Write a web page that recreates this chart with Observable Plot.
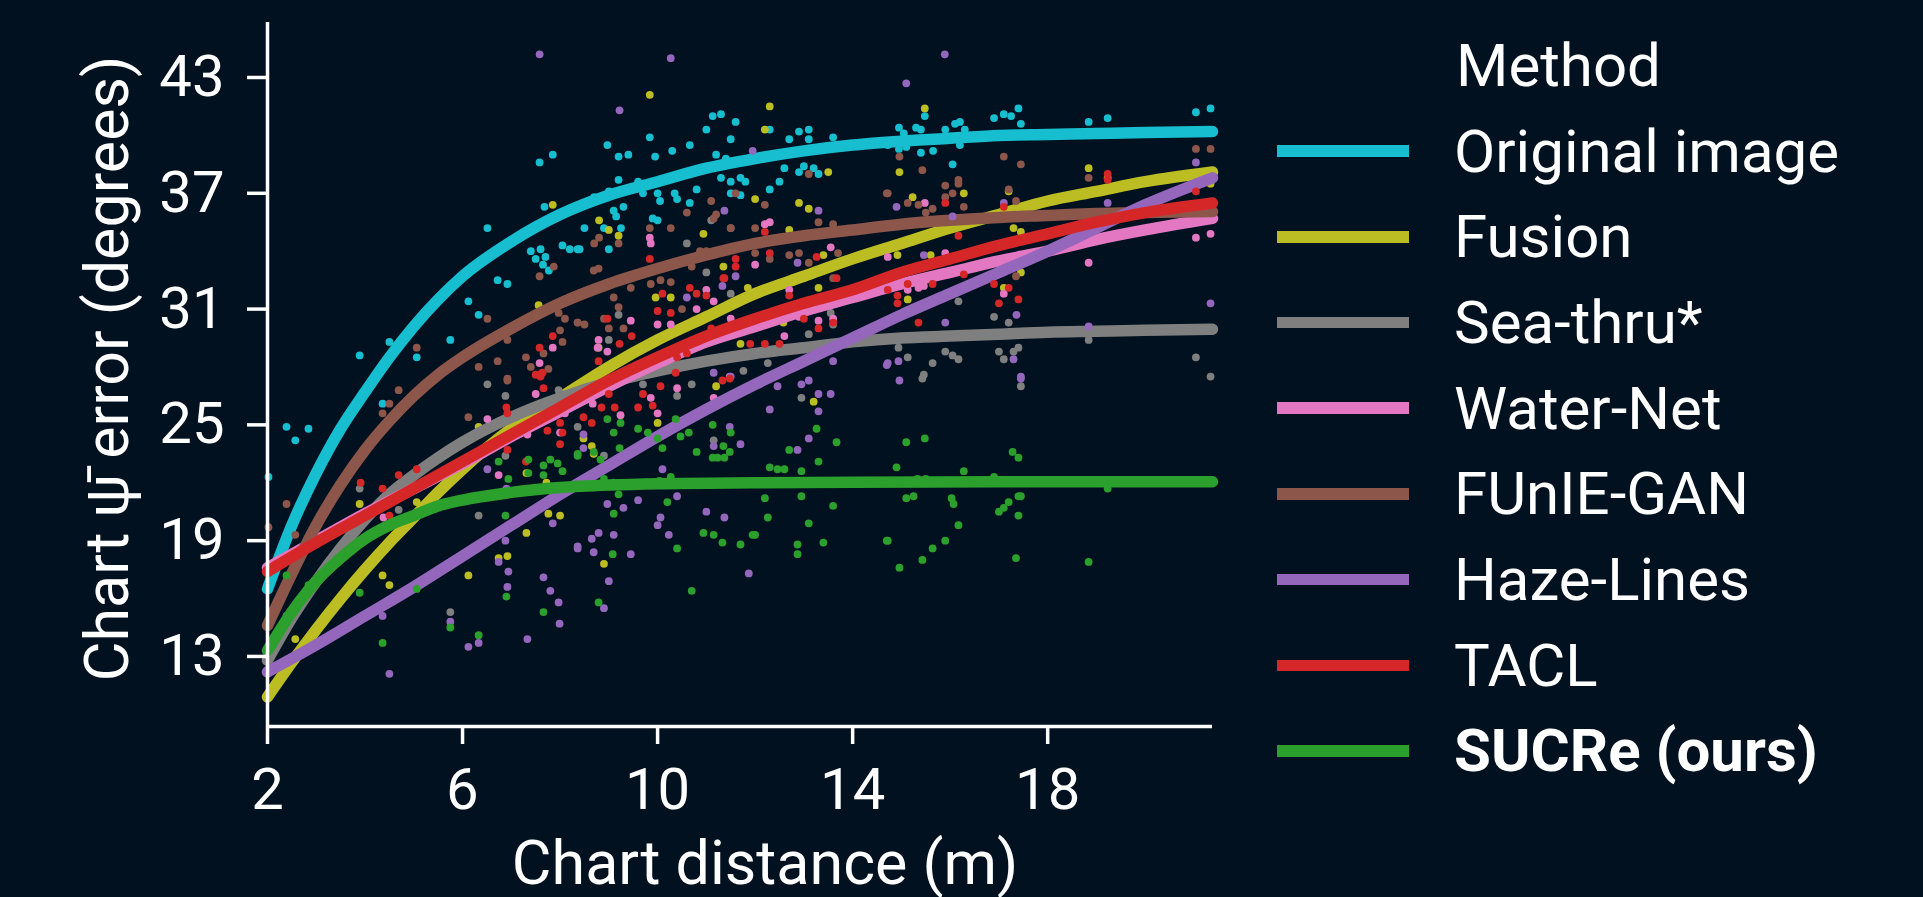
<!DOCTYPE html>
<html><head><meta charset="utf-8">
<script src="https://cdn.jsdelivr.net/npm/d3@7"></script>
<script src="https://cdn.jsdelivr.net/npm/@observablehq/plot@0.6"></script>
<style>
html,body{margin:0;padding:0;background:#01111f;}
#wrap{position:relative;width:1923px;height:897px;overflow:hidden;font-family:Roboto,sans-serif;background:#01111f;}
#chart{position:absolute;left:0;top:0;}
#legend{position:absolute;left:1277px;top:22.6px;color:#fff;font-size:60px;font-family:Roboto,sans-serif;}
.row{display:flex;align-items:center;height:85.7px;white-space:nowrap;}
.sw{width:132px;height:11.5px;margin-right:45px;flex:none;}
.ttl{margin-left:179px;}
</style></head>
<body><div id="wrap"><div id="chart"></div><div id="legend"></div></div>
<script>
const methods = ["Original image","Fusion","Sea-thru*","Water-Net","FUnIE-GAN","Haze-Lines","TACL","SUCRe (ours)"];
const colors = ["#17becf","#bcbd22","#7f7f7f","#e377c2","#8c564b","#9467bd","#d62728","#2ca02c"];
const xTicks = [2,6,10,14,18];
const yTicks = [13,19,25,31,37,43];
const xDomain = [2, 21.38];
const yDomain = [9.37, 45.85];
const xLabel = "Chart distance (m)";
const yLabel = "Chart \u03C8\u0304 error (degrees)";
const legendTitle = "Method";

// fitted curves
const fitOriginal = [[2,16.5],[2.5,19.8],[3,22.5],[3.5,24.8],[4,26.7],[4.5,28.5],[5,30.1],[5.5,31.5],[6,32.7],[7,34.5],[8,35.9],[9,36.9],[10,37.6],[11,38.3],[12,38.8],[13,39.2],[14,39.5],[15,39.7],[16,39.85],[17,40.0],[18,40.05],[19,40.1],[20,40.15],[21.38,40.2]];
const fitFusion = [[2,10.9],[2.5,12.7],[3,14.4],[3.5,16.0],[4,17.5],[4.5,18.9],[5,20.2],[5.5,21.5],[6,22.7],[7,24.8],[8,26.4],[9,28.0],[10,29.4],[11,30.6],[12,31.8],[13,32.7],[14,33.6],[15,34.4],[16,35.2],[17,35.9],[18,36.6],[19,37.1],[20,37.6],[21.38,38.1]];
const fitSeathru = [[2,12.8],[2.5,15.0],[3,16.9],[3.5,18.6],[4,20.1],[4.5,21.4],[5,22.4],[5.5,23.3],[6,24.1],[7,25.4],[8,26.4],[9,27.2],[10,27.8],[11,28.3],[12,28.7],[13,29.0],[14,29.3],[15,29.5],[16,29.6],[17,29.7],[18,29.8],[19,29.85],[20,29.9],[21.38,29.95]];
const fitWaterNet = [[2,17.6],[3,19.0],[4,20.4],[5,21.7],[6,23.0],[7,24.4],[8,25.7],[9,27.0],[10,28.2],[11,29.3],[12,30.1],[13,30.9],[14,31.6],[15,32.3],[16,32.9],[17,33.5],[18,34.0],[19,34.6],[20,35.1],[21.38,35.7]];
const fitFunie = [[2,14.6],[2.5,17.3],[3,19.8],[3.5,21.9],[4,23.7],[4.5,25.2],[5,26.5],[5.5,27.6],[6,28.5],[7,30.0],[8,31.3],[9,32.3],[10,33.1],[11,33.8],[12,34.4],[13,34.8],[14,35.1],[15,35.4],[16,35.6],[17,35.75],[18,35.85],[19,35.95],[20,36.0],[21.38,36.05]];
const fitHaze = [[2,12.2],[3,13.6],[4,15.1],[5,16.6],[6,18.2],[7,19.8],[8,21.4],[9,22.9],[10,24.4],[11,25.8],[12,27.1],[13,28.3],[14,29.5],[15,30.7],[16,31.8],[17,32.9],[18,34.0],[19,35.2],[20,36.4],[21.38,37.8]];
const fitTacl = [[2,17.4],[3,18.9],[4,20.3],[5,21.7],[6,23.1],[7,24.5],[8,25.9],[9,27.3],[10,28.5],[11,29.6],[12,30.5],[13,31.3],[14,32.0],[15,32.9],[16,33.6],[17,34.3],[18,34.9],[19,35.5],[20,36.0],[21.38,36.5]];
const fitSucre = [[2,13.3],[2.5,15.3],[3,16.9],[3.5,18.1],[4,19.1],[4.5,19.8],[5,20.3],[5.5,20.8],[6,21.1],[7,21.5],[8,21.75],[9,21.88],[10,21.95],[12,22.0],[14,22.03],[17,22.05],[21.38,22.05]];

// individual measurements
const ptsOriginal = [[7.58,38.6],[7.85,39.0],[7.68,36.3],[6.51,35.2],[7.4,34.0],[7.5,33.6],[7.6,34.1],[7.7,33.7],[7.65,33.3],[7.77,33.0],[8.05,34.3],[8.2,34.1],[8.36,34.1],[6.72,32.5],[6.92,32.3],[6.12,31.4],[6.33,30.7],[5.75,29.4],[4.5,29.3],[3.89,28.6],[5.06,28.5],[4.36,26.1],[2.39,24.9],[2.84,24.8],[2.57,24.2],[2.02,22.3],
[11.13,41.0],[11.3,41.1],[11.6,40.7],[11.0,40.3],[11.5,39.8],[12.3,40.3],[12.9,40.2],[13.1,40.3],[13.1,39.8],[12.7,39.8],[13.6,39.9],[9.84,39.9],[8.97,39.5],[10.66,39.5],[9.2,38.9],[9.4,39.0],[9.95,38.9],[10.3,39.2],[11.2,39.0],[11.4,38.8],[12.6,38.3],[12.9,38.1],[13.0,38.4],[13.2,38.3],[13.3,38.0],[9.2,37.7],[9.6,37.6],[9.7,37.0],[8.7,36.8],[9.0,37.1],[11.3,37.8],[11.5,37.6],[11.7,37.8],[11.8,37.6],[10.8,37.2],[12.3,37.2],[12.5,37.6],[10.0,37.0],[10.05,36.6],[10.35,37.0],[10.4,36.7],[10.66,36.5],[11.5,37.0],[11.7,36.9],[9.1,36.1],[9.15,35.8],[9.3,36.3],[8.5,35.2],[8.9,35.2],[9.25,35.2],[9.9,35.7],[10.0,35.6],[8.4,34.1],[9.0,34.1],
[15.48,41.0],[14.95,40.4],[15.3,40.4],[15.4,40.3],[15.05,40.1],[15.9,40.3],[16.1,40.6],[16.2,40.7],[16.3,40.3],[16.9,40.9],[17.1,41.1],[17.25,41.0],[17.4,41.4],[17.45,40.6],[18.84,40.7],[19.23,40.9],[21.04,41.2],[21.34,41.4],[14.72,39.5],[14.95,39.3],[15.1,39.4],[15.4,39.1],[15.65,39.2],[16.2,39.5],[16.05,38.5]];
const ptsFusion = [[7.85,36.4],[7.56,31.2],[3.89,20.9],[5.06,21.0],[6.33,24.9],[7.31,19.4],[6.92,18.2],[6.74,18.1],[6.12,17.2],[4.36,17.2],[4.5,16.7],[2.57,13.9],[7.72,22.0],[8.0,20.3],[7.76,20.4],[7.31,22.5],
[9.84,42.1],[12.3,41.5],[12.2,40.3],[13.5,38.1],[8.8,35.6],[9.0,35.1],[9.2,34.8],[12.0,36.7],[12.9,36.5],[13.1,36.2],[12.7,35.1],[9.96,31.6],[10.27,31.6],[10.94,34.9],[11.35,33.2],[11.85,32.1],[12.58,30.3],[13.3,32.1],[13.4,33.8],[11.7,29.2],[8.79,29.0],
[13.2,26.2],[8.9,17.8],[8.65,23.9],[8.48,24.3],[8.69,23.5],[11.2,27.0],[10.0,25.1],
[15.48,41.4],[14.96,38.1],[15.23,36.8],[16.28,37.0],[18.84,38.3],[17.1,32.1],[17.45,32.9],[17.3,35.2],[17.45,35.0],[17.2,37.1],[14.92,33.8],[15.13,31.5],[15.6,33.8],[19.23,37.8],[21.34,37.5]];
const ptsSeathru = [[3.89,21.7],[4.69,20.6],[6.51,27.1],[6.88,26.5],[6.88,23.4],[6.12,21.2],[6.33,20.3],[5.75,15.3],[7.97,26.8],[8.36,24.9],
[10.6,34.4],[11.0,32.9],[11.5,31.8],[9.2,30.7],[9.0,29.4],[11.1,35.6],[11.5,35.2],[12.26,28.2],[11.76,27.8],[13.1,29.7],[13.55,30.8],[13.6,30.2],
[12.95,26.4],[11.15,24.2],[10.7,27.1],[10.4,26.5],[9.7,27.1],[8.9,23.4],
[21.04,28.5],[21.34,27.5],[18.84,29.4],[16.9,30.6],[17.2,30.3],[17.0,28.8],[17.1,28.4],[17.3,28.8],[17.4,29.0],[14.94,29.0],[15.13,28.5],[15.64,28.2],[15.9,28.8],[16.05,28.6],[16.17,28.4],[16.17,31.4],[15.46,27.6],[15.43,27.4],[17.45,27.0]];
const ptsWaterNet = [[7.85,29.0],[7.58,28.2],[2.82,19.1],[4.38,20.2],[6.51,25.3],[6.74,22.4],[8.0,24.6],[8.1,25.6],[7.5,26.6],[7.33,24.5],
[9.84,34.7],[12.2,35.4],[12.3,35.5],[9.86,34.4],[10.0,30.2],[10.27,30.2],[10.8,31.0],[11.0,32.0],[11.15,31.4],[11.5,30.5],[12.0,33.3],[13.55,34.2],[13.6,30.5],[13.3,30.4],[12.9,30.6],[12.7,32.0],[12.6,29.6],[8.79,29.4],[8.77,29.0],[8.97,28.8],[9.45,30.4],
[8.48,26.3],[8.67,26.1],[9.24,25.5],[9.86,26.4],[10.0,25.6],[10.4,26.9],[11.48,27.5],[11.15,26.4],
[15.48,36.5],[21.04,34.7],[21.34,34.9],[18.84,33.4],[17.1,31.8],[14.72,33.7],[15.13,32.0],[15.35,32.1],[15.46,32.2],[15.9,33.9],[16.05,33.0]];
const ptsFunie = [[7.87,33.2],[7.58,32.7],[6.51,30.5],[7.97,30.8],[8.1,30.5],[8.36,30.3],[8.0,29.9],[8.05,29.3],[5.06,29.0],[6.72,28.3],[6.33,28.0],[6.92,27.4],[7.3,28.5],[7.4,28.0],[7.76,27.9],[7.66,28.7],[6.92,29.4],
[4.69,26.8],[4.5,26.1],[4.36,25.6],[2.39,20.9],[2.02,19.7],[2.57,19.3],[6.12,25.4],[6.92,27.3],
[13.1,38.0],[11.6,37.0],[14.7,37.0],[8.8,34.7],[9.2,34.4],[8.7,34.4],[9.84,35.2],[10.27,35.2],[10.6,36.0],[11.1,36.6],[11.2,35.9],[11.15,35.7],[12.2,36.4],[13.3,35.5],[13.6,35.4],[11.5,35.2],[12.0,35.2],[8.69,33.0],[8.79,33.1],[9.45,32.1],[9.86,32.3],[10.06,32.5],[10.27,32.4],[10.5,31.0],[10.7,33.2],[10.87,34.0],[11.0,34.0],[8.36,30.3],[8.5,30.2],[8.9,30.5],[9.0,30.0],[9.3,30.0],[9.1,31.6],[9.2,31.1],[12.0,33.9],[12.3,33.6],[12.7,33.8],[12.9,33.9],[13.1,33.4],[13.6,32.6],[13.7,33.9],
[14.96,38.9],[15.43,38.2],[14.72,37.0],[15.13,36.5],[15.35,36.4],[15.5,36.0],[15.64,36.2],[15.9,37.4],[15.9,36.8],[16.05,37.0],[16.17,37.7],[16.17,37.5],[16.28,36.3],[17.1,38.9],[17.45,38.5],[17.2,37.2],[17.35,36.6],[18.84,37.8],[21.04,39.3],[21.34,39.3],[17.35,32.7]];
const ptsHaze = [[7.58,44.2],[6.51,22.7],[6.9,21.7],[6.88,19.0],[6.74,17.9],[6.94,17.4],[6.92,16.6],[4.36,15.1],[4.5,12.1],[5.75,14.8],[6.12,13.5],[6.33,13.7],[7.33,13.9],[2.39,15.1],[7.66,17.1],[7.8,16.4],[7.97,15.8],[7.99,14.7],[7.85,19.9],[8.36,18.6],
[10.27,44.0],[9.22,41.3],[11.95,39.2],[11.37,36.1],[13.3,36.1],[11.33,32.2],[11.6,32.7],[10.6,31.6],[12.87,33.4],[13.6,28.3],[14.7,28.1],[11.15,27.7],[11.5,27.5],
[12.3,25.8],[12.46,27.0],[12.95,27.1],[13.1,27.3],[13.3,26.6],[13.55,26.6],[13.3,25.7],[13.1,24.3],[12.87,23.7],[11.87,17.3],[11.0,20.5],[11.37,20.2],[10.06,20.2],[10.0,19.8],[10.23,19.3],[9.6,21.1],[10.4,21.3],[10.1,22.7],[11.48,24.9],[11.7,24.0],[11.15,23.9],[8.97,20.9],[9.3,20.7],[9.1,19.3],[8.79,19.4],[8.65,19.1],[8.36,18.7],[8.69,18.4],[9.45,18.3],[9.0,16.9],[8.9,15.5],[8.48,23.8],[8.48,24.5],
[15.89,44.2],[15.1,42.7],[14.9,36.3],[17.1,36.5],[19.23,36.5],[21.04,38.6],[21.34,31.3],[18.84,30.1],[17.36,30.7],[17.3,28.4],[17.45,27.5],[14.72,28.2],[14.94,28.3],[15.9,30.3],[15.46,33.8],[16.05,35.8],[14.96,27.3],[17.45,27.4]];
const ptsTacl = [[7.85,29.6],[7.58,29.0],[7.55,27.6],[7.64,27.7],
[3.91,22.0],[4.36,21.7],[4.69,22.4],[5.06,22.7],[4.5,20.3],[6.9,25.9],[6.92,25.6],[6.92,23.7],[8.0,25.1],[8.05,24.6],[8.0,24.0],[7.66,26.9],[7.5,27.6],[7.6,27.5],[7.74,24.7],[7.3,23.1],
[12.2,35.0],[9.84,33.6],[11.6,33.6],[11.37,32.6],[11.6,33.2],[10.8,31.8],[11.0,31.7],[10.66,32.1],[10.1,31.8],[10.27,30.8],[10.0,30.9],[12.3,33.9],[13.26,33.7],[13.67,32.6],[13.3,30.0],[13.6,30.3],[12.7,31.7],[12.9,31.2],[13.0,30.5],[9.47,29.6],[9.22,29.2],[8.97,30.5],[8.79,28.3],[11.9,29.2],[12.2,29.2],[12.5,29.2],[11.1,30.0],[11.35,32.6],[10.4,28.5],[10.6,28.7],
[8.48,25.4],[8.65,25.1],[8.85,25.9],[9.12,25.9],[9.0,26.6],[9.6,25.9],[9.7,26.6],[9.9,26.0],[10.06,27.0],[11.33,27.3],[11.48,27.4],[10.37,27.7],
[15.9,36.5],[19.23,38.0],[19.23,37.7],[21.04,37.1],[16.9,32.3],[17.0,31.3],[17.2,32.1],[17.4,31.5],[17.1,36.3],[14.72,32.0],[14.92,31.7],[14.92,31.3],[15.13,32.3],[15.35,30.3],[15.64,32.3],[16.28,32.8],[16.17,34.8]];
const ptsSucre = [[4.5,19.7],[6.74,23.1],[6.94,22.2],[6.88,20.3],[6.9,16.1],[5.06,16.5],[3.89,16.3],[2.84,16.7],[4.36,13.7],[5.75,14.5],[6.33,14.1],[2.39,17.2],[7.66,22.4],[7.66,22.9],[7.8,23.2],[7.95,23.0],[8.05,22.6],[7.66,15.3],[8.36,23.4],[7.35,23.2],[7.35,22.5],
[13.26,24.8],[13.67,24.1],[12.7,23.7],[13.3,23.1],[12.3,22.8],[12.46,22.7],[12.6,22.7],[12.95,22.6],[12.95,21.3],[12.2,21.2],[12.26,20.2],[13.1,19.9],[13.6,20.8],[12.87,18.8],[12.87,18.3],[13.4,18.9],[14.7,19.0],[10.94,19.4],[11.15,19.3],[11.33,18.9],[11.7,18.8],[12.0,19.3],[11.95,19.3],[10.4,18.6],[10.7,16.4],[10.2,21.0],[10.27,22.3],[10.04,22.1],[10.8,23.6],[11.13,23.3],[11.23,23.3],[11.37,23.3],[11.35,23.9],[11.48,23.6],[11.5,24.6],[11.13,25.0],[10.47,24.4],[10.64,24.6],[10.37,25.3],[9.6,24.8],[9.8,24.6],[10.0,24.3],[10.1,23.8],[9.22,23.8],[8.36,23.5],[8.69,23.6],[8.83,23.2],[8.9,22.2],[9.1,22.0],[9.24,25.1],[8.97,25.3],[9.1,24.6],[9.2,21.4],[9.1,20.4],[9.08,18.3],[8.79,15.8],
[15.1,24.1],[15.48,24.3],[14.9,22.8],[16.28,22.6],[17.28,23.6],[17.4,23.3],[16.9,22.3],[15.5,22.2],[15.33,22.2],[15.1,21.2],[15.25,21.3],[16.03,21.2],[16.07,20.9],[16.17,19.8],[14.72,19.0],[14.96,17.6],[15.43,18.0],[15.64,18.6],[15.9,19.0],[17.0,20.5],[17.1,20.7],[17.2,21.0],[17.4,21.3],[17.45,21.3],[17.4,20.3],[17.35,18.1],[18.84,17.9],[19.23,21.7]];

const ptsBy = [ptsOriginal, ptsFusion, ptsSeathru, ptsWaterNet, ptsFunie, ptsHaze, ptsTacl, ptsSucre];
const fitBy = [fitOriginal, fitFusion, fitSeathru, fitWaterNet, fitFunie, fitHaze, fitTacl, fitSucre];

const marks = [];
methods.forEach((m, i) => {
  const pts = ptsBy[i].map(([x, y]) => ({method: m, x, y}));
  const fit = fitBy[i].map(([x, y]) => ({method: m, x, y}));
  marks.push(Plot.dot(pts, {x: "x", y: "y", fill: "method", r: 3.9}));
  marks.push(Plot.line(fit, {x: "x", y: "y", stroke: "method", strokeWidth: 11.5, curve: "monotone-x"}));
});

const chart = Plot.plot({
  width: 1230,
  height: 897,
  marginLeft: 267,
  marginRight: 18,
  marginTop: 22,
  marginBottom: 171,
  style: {background: "transparent", color: "white", fontFamily: "Roboto, sans-serif", overflow: "visible"},
  x: {domain: xDomain},
  y: {domain: yDomain},
  color: {domain: methods, range: colors},
  marks: [
    ...marks,
    Plot.axisX({ticks: xTicks, tickSize: 18, tickPadding: 23, strokeWidth: 3.5, color: "white", fontSize: 58, label: null}),
    Plot.axisY({ticks: yTicks, tickSize: 20, tickPadding: 23, strokeWidth: 3.5, color: "white", fontSize: 58, label: null}),
    Plot.ruleX([xDomain[0]], {stroke: "white", strokeWidth: 3.5}),
    Plot.ruleY([yDomain[0]], {stroke: "white", strokeWidth: 3.5}),
    Plot.text([xLabel], {text: d => d, frameAnchor: "bottom", textAnchor: "middle", lineAnchor: "top", dx: 25, dy: 114, fontSize: 61, fill: "white"}),
    Plot.text([yLabel], {text: d => d, frameAnchor: "left", textAnchor: "middle", rotate: -90, lineAnchor: "top", dx: -183, dy: -6, fontSize: 61, fill: "white"})
  ]
});
document.getElementById("chart").appendChild(chart);

// legend
const legend = document.getElementById("legend");
const t = document.createElement("div");
t.className = "row";
t.innerHTML = `<span class="ttl">${legendTitle}</span>`;
legend.appendChild(t);
methods.forEach((m, i) => {
  const r = document.createElement("div");
  r.className = "row";
  const sw = document.createElement("div");
  sw.className = "sw";
  sw.style.background = colors[i];
  const lab = document.createElement("span");
  lab.textContent = m;
  if (i === methods.length - 1) lab.style.fontWeight = "bold";
  r.appendChild(sw); r.appendChild(lab);
  legend.appendChild(r);
});
</script></body></html>
